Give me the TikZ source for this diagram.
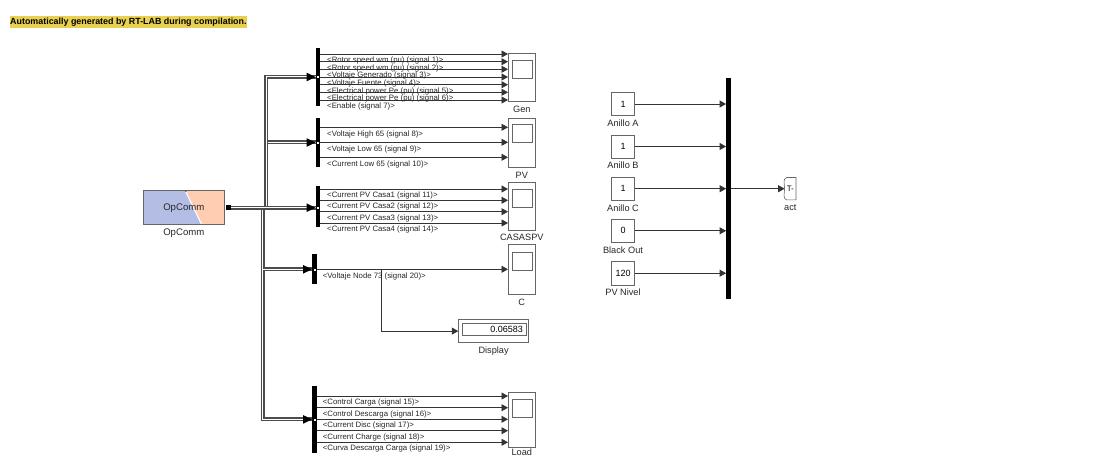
\documentclass[tikz,border=0pt]{standalone}
\usepackage{fontspec}
\setmainfont{Liberation Sans}
\usetikzlibrary{arrows.meta, positioning, calc}
\definecolor{opblue}{HTML}{B4BEE4}
\definecolor{oporange}{HTML}{FFCDB2}
\definecolor{notehigh}{HTML}{E8D050}
\tikzstyle{block} = [rectangle, draw=black!60, fill=white, line width=0.6pt, inner sep=0pt, font=\fontsize{9}{10}\selectfont]
\tikzstyle{barnode} = [rectangle, fill=black, inner sep=0pt, minimum width=4.4pt]
\tikzstyle{tag} = [inner sep=0pt, font=\fontsize{9.2}{10}\selectfont, text=black!85]
\tikzstyle{siglabel} = [anchor=west, inner sep=0pt, font=\fontsize{7.8}{9}\selectfont, text=black!85]
\tikzstyle{wire} = [-{Stealth[length=6.5pt,width=7pt,inset=0pt]}, line width=0.8pt, draw=black!80]
\tikzstyle{buswire} = [double=white, double distance=1pt, line width=1.5pt, draw=black!70]
\newcommand{\scopeblock}[6]{%
\node[block, anchor=north west, minimum width=27pt, minimum height=#4pt] (#1) at (508,#3) {};
\node[block, anchor=north west, minimum width=20pt, minimum height=18pt] (#1screen) at (511.5,#3+#5) {};
\node[tag, below=#6pt of #1] (#1label) {#2};
}
\begin{document}
\begin{tikzpicture}[x=1pt, y=-1pt]
\useasboundingbox (0,0) rectangle (1099,457);

\node[anchor=west, fill=notehigh, inner xsep=0.5pt, inner ysep=1.5pt, font=\bfseries\fontsize{8.9}{10}\selectfont] (note) at (9.5,22) {Automatically generated by RT-LAB during compilation.};

\node[block, minimum width=80.4pt, minimum height=33.4pt, anchor=north west] (opcomm) at (143.3,190.7) {};
\fill[opblue] (opcomm.north west) -- (184.5,190.7) -- (200.7,224.1) -- (opcomm.south west) -- cycle;
\fill[oporange] (opcomm.north east) -- (186,190.7) -- (202.2,224.1) -- (opcomm.south east) -- cycle;
\draw[draw=black!60, line width=0.6pt] (opcomm.north west) rectangle (opcomm.south east);
\node[tag, font=\fontsize{9.6}{10}\selectfont] at (opcomm.center) {OpComm};
\node[tag, font=\fontsize{9.6}{10}\selectfont, below=3.5pt of opcomm] (opcommlabel) {OpComm};
\node[rectangle, fill=black, minimum size=5pt, inner sep=0pt] (opout) at (228,207.7) {};

\node[barnode, minimum height=57.7pt] (busgen) at (318,76.9) {};
\node[barnode, minimum height=49.6pt] (buspv) at (318,142.5) {};
\node[barnode, minimum height=41pt] (buscasas) at (318,206.2) {};
\node[barnode, minimum height=30pt] (busc) at (314.5,269.3) {};
\node[barnode, minimum height=67.3pt] (busload) at (314.5,419.4) {};

\scopeblock{gen}{Gen}{53.3}{47.7}{6.7}{3.9}
\scopeblock{pv}{PV}{117.7}{49.6}{6.7}{3.7}
\scopeblock{casas}{CASASPV}{181.7}{48.3}{7}{3.7}
\scopeblock{scc}{C}{244.3}{50}{7.4}{3.7}
\scopeblock{load}{Load}{391.7}{55}{7.6}{1.6}

\coordinate (jup) at (266,207.7);
\coordinate (jdown) at (262.5,207.7);
\draw[buswire] (jdown) -- (jdown |- busload.west) -- (busload.west);
\draw[buswire] (jdown |- busc.west) -- (busc.west);
\draw[buswire] (jup |- buspv.west) -- (buspv.west);
\draw[buswire] (jup) -- (jup |- busgen.west) -- (busgen.west);
\draw[buswire] (opout.east) -- (buscasas.west |- jup);
\foreach \busname/\ypos in {busgen/77, buspv/142.5, buscasas/207.7, busc/269.3, busload/419.4} {
  \fill[black] ($(\busname.west |- 0,\ypos)+(-9,-4.3)$) -- ($(\busname.west |- 0,\ypos)+(0,0)$) -- ($(\busname.west |- 0,\ypos)+(-9,4.3)$) -- cycle;
  \node[draw=black, fill=white, line width=0.3pt, minimum size=3pt, inner sep=0pt] at (\busname |- 0,\ypos) {};
}

\foreach \ypos in {54,61.7,69.3,77,84.7,92.3,100}
  \draw[wire] (busgen.east |- 0,\ypos) -- (gen.west |- 0,\ypos);
\foreach \ypos in {127.3,142.3,157.3}
  \draw[wire] (buspv.east |- 0,\ypos) -- (pv.west |- 0,\ypos);
\foreach \ypos in {189,200.3,211.7,223}
  \draw[wire] (buscasas.east |- 0,\ypos) -- (casas.west |- 0,\ypos);
\foreach \ypos in {396,407.7,419.3,430.7,442.3}
  \draw[wire] (busload.east |- 0,\ypos) -- (load.west |- 0,\ypos);
\draw[wire] (busc.east) -- (scc.west |- busc.east);

\node[block, anchor=north west, minimum width=70pt, minimum height=23pt] (display) at (458.3,319.3) {};
\node[block, anchor=north west, minimum width=64.3pt, minimum height=11.7pt, align=right, text width=57.7pt] (displayval) at (461.7,323.3) {0.06583};
\node[tag, below=3.5pt of display] (displaylabel) {Display};
\coordinate (jdisp) at (381.3,269.3);
\draw[wire] (jdisp) -- (jdisp |- display.west) -- (display.west);

\foreach \ypos/\txt in {60.2/{<Rotor speed wm (pu) (signal 1)>}, 68.2/{<Rotor speed wm (pu) (signal 2)>}, 75.9/{<Voltaje Generado (signal 3)>}, 83.6/{<Voltaje Fuente (signal 4)>}, 91.2/{<Electrical power Pe (pu) (signal 5)>}, 98.9/{<Electrical power Pe (pu) (signal 6)>}, 106.9/{<Enable (signal 7)>}, 134.2/{<Voltaje High 65 (signal 8)>}, 149.2/{<Voltaje Low 65 (signal 9)>}, 164.2/{<Current Low 65 (signal 10)>}, 195.2/{<Current PV Casa1 (signal 11)>}, 206.9/{<Current PV Casa2 (signal 12)>}, 218.2/{<Current PV Casa3 (signal 13)>}, 229.6/{<Current PV Casa4 (signal 14)>}}
  \node[siglabel] at (327,\ypos) {\txt};
\foreach \ypos/\txt in {276.2/{<Voltaje Node 73 (signal 20)>}, 402.6/{<Control Carga (signal 15)>}, 414.6/{<Control Descarga (signal 16)>}, 425.9/{<Current Disc (signal 17)>}, 437.6/{<Current Charge (signal 18)>}, 448.9/{<Curva Descarga Carga (signal 19)>}}
  \node[siglabel] at (322.7,\ypos) {\txt};

\node[barnode, minimum height=220.7pt] (busact) at (728.5,188.7) {};
\foreach \cname/\ypos/\val/\txt in {anilloa/104/1/Anillo A, anillob/146.5/1/Anillo B, anilloc/188.7/1/Anillo C, blackout/230.8/0/Black Out, pvnivel/273.2/120/PV Nivel} {
  \node[block, minimum width=23.4pt, minimum height=23.2pt] (\cname) at (623,\ypos) {\val};
  \node[tag, below=3.6pt of \cname] (\cname label) {\txt};
  \draw[wire] (\cname.east) -- (busact.west |- \cname.east);
}

\node[inner sep=0pt, minimum width=11pt, minimum height=22pt, font=\fontsize{8}{9}\selectfont, anchor=west] (act) at (784.6,188.7) {T-};
\draw[draw=black!60, line width=0.6pt] (act.south east) -- (act.north east) -- ($(act.north west)+(2,0)$) to[out=200, in=90] (act.west) to[out=-90, in=160] ($(act.south west)+(2,0)$) -- (act.south east);
\node[tag, below=4.3pt of act] (actlabel) {act};
\draw[wire] (busact.east |- act.west) -- (act.west);
\end{tikzpicture}
\end{document}
